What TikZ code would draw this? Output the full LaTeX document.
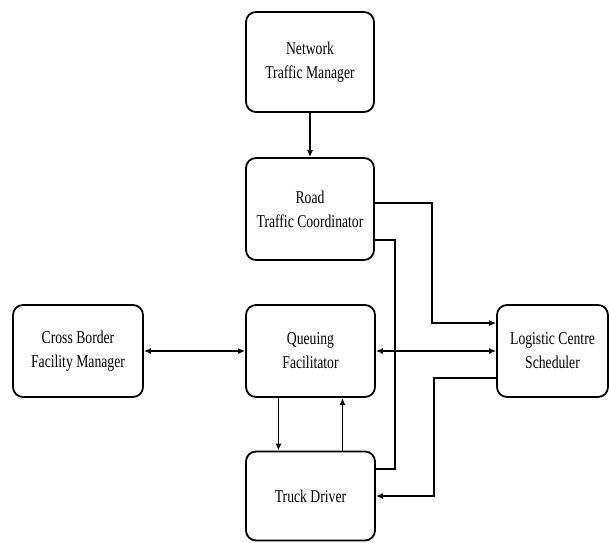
\documentclass[tikz,border=0pt]{standalone}
\usepackage{fontspec}
\setmainfont[FakeStretch=0.76]{Liberation Serif}
\usetikzlibrary{arrows.meta}

\begin{document}
\begin{tikzpicture}[x=1pt, y=-1pt,
    block/.style={rectangle, rounded corners=10pt, draw, line width=1.8pt, align=center,
        inner sep=0pt, font=\fontsize{18}{24}\selectfont},
    link/.style={line width=1.5pt},
    arr/.style={link, -{Latex[length=7pt,width=6pt]}},
    twoway/.style={link, {Latex[length=7pt,width=6pt]}-{Latex[length=7pt,width=6pt]}}]

\useasboundingbox (0,0) rectangle (609,542);

% the boxes
\node[block, minimum width=128pt, minimum height=100pt] (ntm) at (310,62) {Network\\Traffic Manager};
\node[block, minimum width=128pt, minimum height=102pt] (rtc) at (310,209) {Road\\Traffic Coordinator};
\node[block, minimum width=129pt, minimum height=92pt] (qf) at (310.5,351) {Queuing\\Facilitator};
\node[block, minimum width=129pt, minimum height=89pt] (td) at (310.5,496) {Truck Driver};
\node[block, minimum width=111pt, minimum height=92pt] (lcs) at (552.5,351) {Logistic Centre\\Scheduler};
\node[block, minimum width=130pt, minimum height=92pt] (cbfm) at (78,351) {Cross Border\\Facility Manager};

% vertical links
\draw[arr] (ntm.south) -- (rtc.north);
\draw[arr] ([xshift=-32pt]qf.south) -- ([xshift=-32pt]td.north);
\draw[arr] ([xshift=32pt]td.north) -- ([xshift=32pt]qf.south);

% two-way links
\draw[twoway] (cbfm.east) -- (qf.west);
\draw[twoway] (qf.east) -- (lcs.west);

% the bent links
\draw[arr] ([yshift=6pt]rtc.east) -| ([xshift=-64pt,yshift=28pt]lcs.west) -- ([yshift=28pt]lcs.west);
\draw[link] ([yshift=-31pt]rtc.east) -| ([xshift=19pt,yshift=27pt]td.east) -- ([yshift=27pt]td.east);
\draw[arr] ([yshift=-27pt]lcs.west) -| ([xshift=58pt]td.east) -- (td.east);
\end{tikzpicture}
\end{document}
